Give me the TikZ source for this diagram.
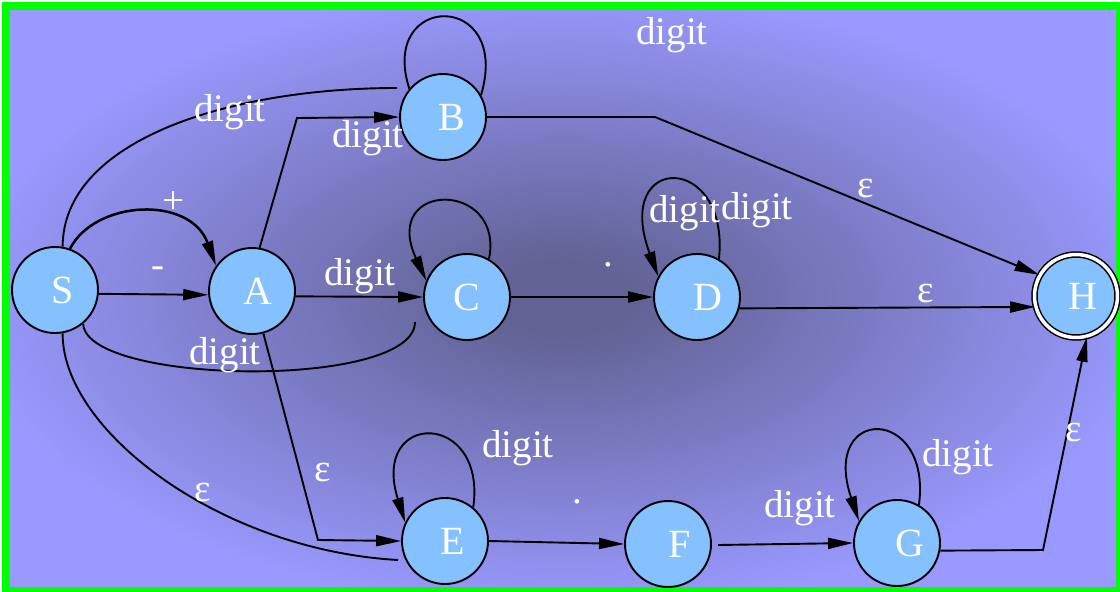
\documentclass[tikz,border=0pt]{standalone}
\usepackage{fontspec}
\setmainfont{Liberation Serif}
\usetikzlibrary{arrows.meta}
\definecolor{bgin}{RGB}{98,98,148}
\definecolor{bgout}{RGB}{153,153,255}
\definecolor{nodeblue}{RGB}{133,192,255}
\definecolor{framegreen}{RGB}{0,255,0}
\pgfdeclareradialshading{bgshade}{\pgfpoint{0bp}{0bp}}{color(0bp)=(bgin); color(3bp)=(bgin); color(27bp)=(bgout); color(50bp)=(bgout)}
\newcommand\shiftletter[2]{\makebox[0pt]{\hspace*{#1}#2}}
\tikzset{
  st/.style={circle, draw=black, fill=nodeblue, line width=1.9pt, minimum size=86pt, inner sep=0pt,
    font=\fontsize{40}{40}\selectfont, text=white},
  accst/.style={st, double=white, double distance=3.5pt, line width=1.5pt, minimum size=83pt},
  lbl/.style={inner sep=0pt, text=white, font=\fontsize{39}{39}\selectfont},
  edge/.style={draw=black, line width=1.9pt},
  arr/.style={edge, -{Triangle[length=25pt,width=11pt]}},
}
\begin{document}
\begin{tikzpicture}[x=1pt,y=-1pt]
\useasboundingbox (0,0) rectangle (1120,592);
\fill[white] (0,0) rectangle (1120,592);
\fill[framegreen] (2,2) rectangle (1120,592);
\shade[shading=bgshade] (10,10) rectangle (1116,586);

% states
\node[st] (S) at (55,290) {\shiftletter{16pt}{S}};
\node[st] (A) at (252,291) {\shiftletter{12pt}{A}};
\node[st] (B) at (443,117) {\shiftletter{18pt}{B}};
\node[st] (C) at (467,297) {\shiftletter{0pt}{C}};
\node[st] (D) at (697,297) {\shiftletter{22pt}{D}};
\node[accst] (H) at (1076,296) {\shiftletter{14pt}{H}};
\node[st] (E) at (445,541) {\shiftletter{16pt}{E}};
\node[st] (F) at (668,544) {\shiftletter{24pt}{F}};
\node[st] (G) at (897,543) {\shiftletter{26pt}{G}};

% bend points
\coordinate (ab) at (297,118);
\coordinate (bh) at (655,117);
\coordinate (ae) at (318,540);
\coordinate (gh) at (1043,550);
\coordinate (sbend) at (397,88);
\coordinate (scend) at (415,322);
\coordinate (seend) at (398,560);
\coordinate (fstart) at (718,545);

% S transitions
\draw[arr] (S.-5) -- (A.185);
\draw[arr, line width=2.5pt] (S.70) .. controls (95,200) and (190,195) .. (A.145);
\draw[edge] (S.80) .. controls (63,140) and (230,88) .. (sbend);
\draw[edge] (S.-50) .. controls (85,385) and (415,390) .. (scend);
\draw[edge] (S.-80) .. controls (62,430) and (220,550) .. (seend);

% A transitions
\draw[arr] (A.80) -- (ab) -- (B.west);
\draw[arr] (A.-7) -- (C.west);
\draw[arr] (A.-75) -- (ae) -- (E.west);

% B
\draw[edge] (B.140) .. controls (378,-8) and (512,-10) .. (B.30);
\draw[arr] (B.east) -- (bh) -- (H.150);

% C
\draw[arr] (C.60) .. controls (505,180) and (380,180) .. (C.158);
\draw[arr] (C.east) -- (D.west);

% D
\draw[arr] (D.60) .. controls (730,152) and (612,152) .. (D.152);
\draw[arr] (D.-15) -- (H.-165);

% E, F, G
\draw[arr] (E.50) .. controls (487,410) and (370,410) .. (E.155);
\draw[arr] (E.east) -- (F.west);
\draw[arr] (fstart) -- (G.west);
\draw[arr] (G.60) .. controls (932,405) and (820,405) .. (G.150);
\draw[arr] (G.-10) -- (gh) -- (H.-75);

% labels
\node[lbl] (l1) at (173,202) {+};
\node[lbl] (l2) at (158,272) {-};
\node[lbl] (l3) at (230,112) {digit};
\node[lbl] (l4) at (368,138) {digit};
\node[lbl] (l5) at (672,35) {digit};
\node[lbl] (l6) at (866,188) {ε};
\node[lbl] (l7) at (360,276) {digit};
\node[lbl] (l8) at (225,355) {digit};
\node[lbl] (l9) at (608,265) {.};
\node[lbl] (l10) at (685,213) {digit};
\node[lbl] (l11) at (757,210) {digit};
\node[lbl] (l12) at (926,293) {ε};
\node[lbl] (l13) at (323,472) {ε};
\node[lbl] (l14) at (203,492) {ε};
\node[lbl] (l15) at (518,448) {digit};
\node[lbl] (l16) at (577,502) {.};
\node[lbl] (l17) at (800,508) {digit};
\node[lbl] (l18) at (958,457) {digit};
\node[lbl] (l19) at (1074,432) {ε};
\end{tikzpicture}
\end{document}
